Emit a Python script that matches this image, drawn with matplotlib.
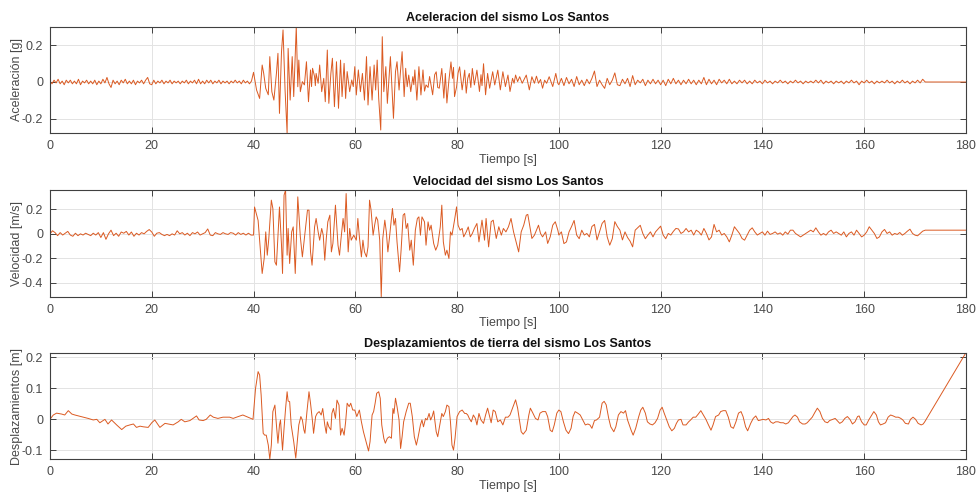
import numpy as np
import matplotlib
matplotlib.use("Agg")
import matplotlib.pyplot as plt
from matplotlib.ticker import FuncFormatter

plt.rcParams['font.family'] = ['Liberation Sans', 'DejaVu Sans']
plt.rcParams['axes.unicode_minus'] = False

# ---------------- Data ----------------
# Acceleration, values in hundredths of g
acc_quiet_dt = 0.4   # 0 .. 39.6 s
acc_quiet = [0.5, -1, 1, -0.5, 1.5, -1, 0.5, -1.5, 1, -0.5,
             1, -1, 0.5, -1, 1.5, -1.5, 0.5, -0.5, 1, -1,
             0.5, -1, 1, -1.5, 0.5, -1, 1.5, -0.5, 2.5, -1,
             -3, 1, -1, 0.5, -1.5, 1, -0.5, 1.5, -1, 0.5,
             -1, 1, -1.5, 0.5, -0.5, 1, -1, 1, 2.5, -1,
             -1.5, 1, -1, 0.5, -0.5, 1, -1, 0.5, -0.5, 1,
             -1, 0.5, -0.5, 0.5, -1, 0.5, -0.5, 1, -1, 0.5,
             -0.5, 1, -1, 1.5, -1, 0.5, -1, 1, -0.5, 1,
             -1, 0.5, -0.5, 1, -1, 0.5, -0.5, 0.5, -1, 0.5,
             -0.5, 1, -0.5, 0.5, -1, 1, -0.5, 0.5, -1, 0.5]
acc_strong_t = [40.0, 40.6, 41.2, 41.7, 42.0, 42.4, 42.9, 43.2, 43.6, 44.0,
                44.5, 44.8, 45.1, 45.5, 45.8, 46.2, 46.6, 46.8, 47.2, 47.6,
                47.9, 48.4, 48.7, 48.9, 49.2, 49.6, 50.0, 50.4, 50.8, 51.2,
                51.4, 51.6, 52.0, 52.15, 52.3, 52.7, 53.0, 53.4, 53.8, 54.1,
                54.5, 54.8, 55.2, 55.5, 55.9, 56.3, 56.7, 57.1, 57.4, 57.8,
                58.1, 58.4, 58.9, 59.3, 59.6, 59.9, 60.2, 60.6, 61.0, 61.4,
                61.8, 62.2, 62.5, 62.9, 63.3, 63.7, 64.0, 64.3, 64.6, 65.0,
                65.3, 65.6, 66.0, 66.3, 66.6, 66.9, 67.3, 67.5, 67.9, 68.2,
                68.6, 68.9, 69.2, 69.6, 69.9, 70.2, 70.5, 70.9, 71.3, 71.5,
                71.7, 72.1, 72.5, 72.9, 73.3, 73.6, 73.9, 74.3, 74.6, 75.2,
                75.6, 75.9, 76.2, 76.5, 77.0, 77.4, 77.7, 78.0, 78.4, 78.8,
                79.1, 79.3, 79.5, 79.9, 80.2, 80.5, 81.0, 81.5, 81.8, 82.1,
                82.4, 82.7, 83.0, 83.4, 83.9, 84.4, 84.7, 84.9, 85.2, 85.6,
                86.0, 86.4, 87.0, 87.4, 88.0, 88.5, 89.0, 89.5, 90.0, 90.4,
                90.9, 91.2, 91.5, 91.9, 92.3, 92.8, 93.1, 93.6, 94.2, 94.7,
                95.2, 95.6, 96.0, 96.4, 96.8, 97.2, 97.6, 98.1, 98.8, 99.4,
                99.8]
acc_strong_v = [5.3, -4.4, -9, 9.3, 4.7, -3.5, -7, 13.9, -5.3, -9.9,
                4.7, 15.7, -17.2, 16.6, 28.5, -4.4, -28, 18.4, -9.9, 13.9,
                -8, 30.3, -2.6, 12, -5.3, 0.2, -1.6, 11.1, -10.8, 6.6,
                -2.5, 7.5, 2.9, -2, 4.7, -0.7, 9.3, -5.3, 2, -10.8,
                17.5, -11.7, 4.7, 13, -13.5, 11.1, -14.4, 12, -8, 10.2,
                -9, 5.7, -5.3, 1.1, -2.5, 8.4, -7.1, 6.6, -5.3, 4.7,
                -9.9, 13.9, -12.6, 8.4, -9.9, 9.3, -4.4, 12, -9, -26.3,
                24.8, -5.3, 8.4, -11.7, 1.1, 13.9, -8, -19.9, 5.7, 11.1,
                -4.4, 6.6, 16.6, -8, 7.5, -2.6, 3.8, -5.3, 2.9, -1.5,
                6.6, -9.9, 8.4, -7.1, 6.6, -5, -1.6, -3, 3, -7,
                4, 5.6, -3, -3.4, 7.4, -8.8, 4.7, -11.5, 1, 11,
                2, 8, -8, -2.7, 5, 8.3, -4.3, 6.5, -6.1, 2,
                4.7, -3, 7.4, -1.6, 6.5, -5.2, 4, -2, 10, -7,
                4.7, -3.4, 5.6, -1.6, 6.5, -4.3, 5.6, -2.5, 3.8, -5.2,
                2, -0.7, 3.8, 0.2, 2.9, -0.7, 1, 3.8, -4.3, 2.9,
                -0.7, 3.2, -0.7, 1.4, -3.4, 1, -0.7, 2.9, -2.5, 4.7,
                -0.7]
acc_coda_start = 100.0
acc_coda_dt = 0.5    # 100 .. 171.5 s
acc_coda = [-1.5, 2, -2, 2.5, -1, 1.5, -2.5, 3, -1.5, 1,
            -2, 1.5, -1, 2, 6, -2.5, 1, -1.5, -3.5, 2,
            -1.5, 1, 5, -1.5, -2, 1.5, -1, 2, -2.5, 3.5,
            -1.5, 1, -0.5, 1.5, -2, 1, -1, 1.5, -1, 1,
            -1.5, 1, -2, 1.5, -1, 2, -1, 1, -1.5, 1,
            -1, 1.5, -1, 1, -1.5, 1, -1, 2.5, -1.5, 1.5,
            -1, 1, -1.5, 1.5, -0.5, 1, -1, 1.5, -1, 0.5,
            -1, 1, -0.5, 1, -1, 0.5, -1, 1, -0.5, 0.5,
            -1, 1, -0.5, 0.5, -1, 0.5, -0.5, 1, -0.5, 0.5,
            -1, 0.5, -0.5, 1, -0.5, 0.5, -1, 0.5, -0.5, 0.5,
            -0.5, 1, -0.5, 1, -1, 0.5, -0.5, 0.5, -1, 0.5,
            -0.5, 0.5, -1, 0.5, -0.5, 1, -0.5, 0.5, -1.5, 0.5,
            -0.5, 1, -0.5, 0.5, -1, 0.5, -0.5, 0.5, -0.5, 1,
            -0.5, 0.5, -1, 0.5, -0.5, 1, -0.5, 0.5, -1, 0.5,
            -0.5, 1, -0.5, 1.5]
acc_tail_t = [172.0, 180.0]
acc_tail_v = [0, 0]

# Velocity, values in cm/s (hundredths of m/s)
vel_quiet_dt = 0.5   # 0 .. 39.5 s
vel_quiet = [0, 2.5, 1, -1.5, 1, -1, 0.5, 2, -1, -2,
             0.5, -1.5, 0, -1, 0.5, -0.5, -1.5, 0.5, -1, 1,
             -3, 1, -4.5, 0, 3, -1.5, 0.5, -2, 1.5, 0.5,
             2, -1, 1.5, -2, 0.5, -1, 1, 0, 2, 3.5,
             1.5, -2, 0.5, 1, -0.5, -1.5, -0.5, -1.5, 0, -1,
             2.5, 0, 1, -1, 0.5, -1.5, 1, 0, 1.5, -1,
             0, 1, 4, -1, -1.5, 1, 0, -0.5, 1, 0,
             -0.5, 1, 0.5, -1, 1, -0.5, 0.5, -1, 0.5, -1]
vel_strong_t = [40.0, 40.2, 40.9, 41.7, 42.1, 42.4, 42.7, 43.0, 43.5, 43.8,
                44.2, 44.5, 44.8, 45.1, 45.5, 45.7, 46.0, 46.3, 46.6, 46.8,
                47.1, 47.5, 47.8, 48.2, 48.7, 49.2, 49.6, 50.0, 50.6, 50.9,
                51.2, 51.5, 52.0, 52.3, 52.7, 53.0, 53.4, 53.7, 54.0, 54.3,
                54.6, 55.0, 55.3, 55.6, 56.1, 56.6, 56.9, 57.2, 57.6, 57.9,
                58.2, 58.6, 58.9, 59.2, 59.7, 60.2, 60.5, 60.8, 61.2, 61.5,
                61.8, 62.2, 62.5, 62.8, 63.1, 63.5, 63.8, 64.1, 64.4, 64.8,
                65.1, 65.4, 65.8, 66.1, 66.4, 66.7, 67.3, 67.6, 67.9, 68.2,
                68.7, 69.0, 69.4, 69.7, 70.0, 70.3, 70.7, 71.0, 71.4, 71.8,
                72.2, 72.5, 72.8, 73.1, 73.6, 73.9, 74.3, 74.6, 74.9, 75.4,
                75.8, 76.2, 76.7, 77.0, 77.3, 77.7, 78.0, 78.4, 78.7, 79.0,
                79.5, 79.9, 80.2, 80.6, 81.0, 81.3, 81.8, 82.2, 82.6, 83.0,
                83.4, 83.9, 84.3, 84.9, 85.4, 85.7, 86.2, 86.7, 87.1, 87.7,
                88.2, 88.7, 89.1, 89.6, 90.1, 90.6, 91.1, 91.6, 92.1, 92.6,
                93.1, 93.6, 93.9, 94.3, 94.7, 95.2, 95.6, 96.0, 96.4, 96.8,
                97.4, 97.8, 98.3, 98.8, 99.3, 99.8]
vel_strong_v = [-1, 22, 11, -32.5, -20, 1.6, -17.5, -4, 27.6, 20.8,
                -23, -25.7, -1, 22, -9.3, -32.5, 31.7, 35.8, -17.5, 4.4,
                -24.3, 1.6, 5.7, -32.5, 30.3, -2.5, -18.9, -3.8, 19.4, 19.4,
                -14.8, -25.7, 5.7, 12.6, 1.6, -5.2, 4.4, -1.1, -21.6, -3.8,
                9.8, 15.3, -14.8, -7.9, 23.5, -9.3, -17.5, -3.8, 12.6, 1.6,
                33, -14.8, 4.4, -5.2, -1.1, -5.2, 12.6, -2.5, -18.9, -5.2,
                -14.8, -18.9, -10.7, 27.6, 19.4, -1.1, 7.1, 13.9, 11.2, -5.2,
                -51.6, -3.8, 11.2, 1.6, -14.8, -3.8, 20.8, 7.1, 12.6, -6.6,
                -31.1, -13.4, 15.3, 16.7, 4.4, 8.5, -13.4, -5.2, -25.7, 3,
                12.6, 13.9, -1.1, 13.9, 9.8, -9.3, 9.8, 3, 7.1, -7.9,
                -13.4, -9.3, 5.7, 23.5, -6.6, -17.5, -13.4, -20.2, 1.6, -1.1,
                11.2, 22.1, 7.1, 3, 4.4, -2.5, 1.6, 5.7, -2.5, 0.3,
                4.4, 8.5, -6.6, 11.2, -5.2, 12.6, -10.7, 9.9, 11.2, -3.8,
                5.8, -1.1, 4.4, 1.6, 5.8, 12.6, 1.6, -6.6, -14.8, 1.6,
                7.1, 15.3, 15.9, 5.8, -3.8, -1.1, 3, 7.1, 0.3, -2.5,
                1.6, -7.9, -2.5, 7.1, 9.9, 3]
vel_coda_start = 100.0
vel_coda_dt = 0.5    # 100 .. 171.5 s
vel_coda = [-1, 1.6, -8, -6.6, 1.6, 6, 11, -1, -4, 3,
            -1, 0.3, -2.5, 6, 7.7, -5, 1.6, 8.5, 11, -2.5,
            -9.3, -4, 10, 6, 3, -5, 1.6, -3, -6, -10.7,
            3, 5, 7, 0.3, -4, -1, 1.6, -2.5, 1.6, 4,
            6.3, -1, -4, 0.3, -1, 2, 4.4, 4, 0.3, 1.6,
            4.4, 1.6, 3, -1, 3, 1.6, -1, 4.4, 0.3, -5,
            -2.5, 7.7, 1.6, 3, -1, 0.3, -2.5, -6.6, -1, 5.8,
            3, 0.3, -3.8, -5.2, -1, 3, 4.9, 1.6, -1, 0.3,
            1.6, -1.1, 2.2, -0.5, 0.3, 1.6, -0.3, 0.8, -1.1, 1.6,
            -0.3, 3, 3, 0.3, -1.1, -2.5, -1.1, 0.3, 1.6, 3,
            1.6, 4.9, 1.6, -1.1, 0.3, -1.1, 1.6, 3, 0.3, 1.6,
            0.3, -1.1, 1.6, -2.5, 0.3, 1.6, -1.1, 3, 0.3, -2.5,
            -1.1, 1.6, 5.8, 3, 0.3, -3.8, -2.5, 1.6, 3.6, 0.3,
            1.6, -1.1, 0.3, -0.5, 1.1, -1.1, 0.3, 2.2, 3.8, 0.3,
            -1.1, -1.6, 0.3, 2.2]
vel_tail_t = [172.0, 180.0]
vel_tail_v = [3, 3]

# Ground displacement, values in cm (hundredths of m)
disp_t = [0.0, 0.65, 1.3, 2.3, 2.9, 3.6, 4.3, 4.9, 5.6, 6.5,
          7.5, 8.5, 9.2, 9.8, 10.8, 11.4, 12.1, 13.1, 14.1, 14.9,
          15.7, 16.4, 17.0, 17.7, 18.3, 19.3, 20.0, 20.6, 21.6, 22.6,
          23.2, 24.2, 25.2, 25.8, 26.5, 27.5, 28.1, 28.8, 29.3, 30.1,
          30.7, 31.5, 32.1, 33.0, 34.0, 35.3, 36.0, 37.0, 37.9, 38.9,
          39.9, 40.4, 40.9, 41.2, 41.5, 41.9, 42.2, 42.5, 42.9, 43.2,
          43.5, 43.8, 44.2, 44.5, 44.8, 45.1, 45.3, 45.7, 46.0, 46.3,
          46.6, 46.8, 47.1, 47.4, 47.9, 48.3, 48.6, 48.9, 49.3, 49.6,
          49.9, 50.1, 50.5, 50.9, 51.2, 51.6, 51.8, 52.2, 52.5, 52.9,
          53.3, 53.6, 54.0, 54.3, 54.5, 54.8, 55.2, 55.4, 55.7, 56.1,
          56.4, 56.8, 57.1, 57.4, 57.8, 58.1, 58.4, 58.8, 59.1, 59.5,
          59.9, 60.3, 60.8, 61.2, 61.6, 62.2, 62.6, 62.9, 63.3, 63.6,
          63.9, 64.2, 64.6, 64.9, 65.2, 65.6, 65.9, 66.3, 66.7, 67.1,
          67.4, 67.6, 67.9, 68.2, 68.6, 68.9, 69.2, 69.5, 70.0, 70.5,
          70.8, 71.2, 71.6, 72.0, 72.3, 72.8, 73.1, 73.4, 73.8, 74.1,
          74.5, 74.8, 75.1, 75.4, 75.9, 76.2, 76.7, 77.0, 77.3, 77.7,
          78.0, 78.4, 78.7, 79.0, 79.3, 79.6, 80.0, 80.5, 81.0, 81.5,
          81.8, 82.1, 82.4, 82.8, 83.2, 83.6, 83.9, 84.3, 84.7, 85.2,
          85.6, 86.0, 86.4, 86.7, 87.1, 87.5, 88.0, 88.5, 89.0, 89.5,
          90.0, 90.4, 90.9, 91.5, 91.9, 92.3, 92.6, 93.0, 93.6, 94.1,
          94.4, 94.9, 95.4, 95.9, 96.3, 96.8, 97.4, 97.8, 98.3, 98.7,
          99.1, 99.6, 100.0, 100.4, 100.9, 101.4, 101.9, 102.4, 102.8, 103.2,
          103.7, 104.2, 104.7, 105.2, 105.7, 106.1, 106.5, 107.0, 107.4, 108.0,
          108.5, 108.9, 109.3, 109.8, 110.2, 110.8, 111.2, 111.7, 112.2, 112.7,
          113.1, 113.5, 114.2, 114.6, 115.1, 115.7, 116.1, 116.5, 117.0, 117.4,
          117.9, 118.4, 118.9, 119.4, 119.9, 120.3, 120.7, 121.2, 121.7, 122.2,
          122.7, 123.1, 123.5, 124.0, 124.4, 125.0, 125.5, 125.9, 126.4, 126.9,
          127.4, 127.9, 128.4, 128.9, 129.4, 129.9, 130.3, 130.8, 131.4, 131.8,
          132.3, 132.8, 133.3, 133.8, 134.3, 134.8, 135.3, 135.8, 136.2, 136.7,
          137.1, 137.7, 138.2, 138.7, 139.2, 139.7, 140.1, 140.7, 141.2, 141.6,
          142.1, 142.6, 143.1, 143.6, 144.1, 144.6, 145.1, 145.6, 146.0, 146.4,
          146.9, 147.3, 147.9, 148.4, 148.8, 149.3, 149.8, 150.3, 150.8, 151.3,
          151.8, 152.3, 152.8, 153.2, 153.8, 154.3, 154.7, 155.2, 155.7, 156.2,
          156.7, 157.2, 157.7, 158.2, 158.7, 159.0, 159.5, 160.0, 160.4, 160.9,
          161.5, 161.9, 162.4, 162.8, 163.2, 163.7, 164.2, 164.7, 165.2, 165.7,
          166.2, 166.7, 167.2, 167.6, 168.1, 168.7, 169.1, 169.6, 170.1, 170.6,
          171.2, 171.6, 171.9, 180.0]
disp_v = [0, 1.4, 2, 1.7, 1.4, 2.8, 1.7, 1.4, 1.1, 0.7,
          0.3, -0.2, 0, -1.1, 0, -1.5, -0.2, -1.8, -3.3, -2.2,
          -1.8, -1.5, -2.6, -2.2, -2.4, -2.6, -1.1, -0.2, -2.6, -1.3,
          -1.5, -1.8, -0.8, 0, -0.8, -0.4, 0.3, 1.1, -0.2, -0.4,
          0, 1.4, 0.7, 0.3, 0.7, 0.7, 0.3, 0.9, 1.4, 0.7,
          0, 10, 15.4, 14.3, 7.8, -4.5, -5.1, -5.1, -8.3, -12.9,
          -8.3, 2.5, 4.6, -1.8, -7.7, -1.8, -0.2, -9.9, -2.9, 3.5,
          8.9, 5.9, 5.7, -1.8, -7.2, -12.5, -7.2, -1.8, 0.9, -0.2,
          -3.4, -4.5, 2.5, 8.9, 5.2, -0.8, -4.5, 0.9, 1.9, 2.5,
          1.4, 3.5, -1.8, -4.5, -0.8, -2.4, -3.4, 1.9, 3.5, 0.3,
          6.2, 4.6, -5.1, -2.9, -5.1, -0.8, 5.2, 4.1, 5.2, 3,
          3, 0.9, 3, -0.8, -4, -7.7, -10.2, -7.2, 1.4, 2.5,
          5.2, 8.4, 8.9, 6.8, -1.8, -6.1, -7.7, -6.1, -5.6, -6.1,
          3.5, 1.9, 6.8, 4.1, -0.2, -9.4, -5.6, -0.8, 2.5, 5.2,
          5.2, 0.9, -5.6, -8.3, -6.1, -1.8, -0.2, -2.4, 0.3, -0.2,
          1.9, -0.2, 0.9, 2.7, -4, -5.6, -0.8, 1.9, 0.9, 2.5,
          4.6, 4.1, -0.8, -8.3, -9.9, -6.1, 0.9, 2.5, 3, 1.9,
          1.9, 1.4, 0.3, -0.8, 1.4, 0.3, -1.8, 1.9, -0.2, -1.3,
          1.4, 3.6, 0.9, -1.1, 3, 2.5, -0.8, -0.2, -1.8, 0.7,
          0.7, 1.4, 3.6, 6.3, 3.6, -0.8, -4, -4.8, -3.5, 1.4,
          3.6, 2, 0.3, -0.2, 2, 2.5, 2.5, 0.9, -3.5, -4,
          -1.8, 2, 3, 2.5, -0.8, -3.5, -4.6, -2.9, 0.9, 2.5,
          2, 1.4, -0.2, -1.8, -1.5, -1.8, -2.9, -0.4, -0.2, 0.7,
          5.2, 5.8, 4.7, 0.3, -2.4, -4, -2.4, 1.4, 2.5, 2,
          2.8, -0.2, -3.5, -5.1, -2.9, 0.9, 3, 3.9, 2, -0.8,
          -1.5, -1.8, -1.1, 0.3, 3, 3.9, 2, -0.2, -2.4, -3.7,
          -2.9, -1.3, -0.2, 0, -1.8, -1.8, -0.8, -0.2, 0.7, 0.7,
          1.7, 2.8, 1.4, 0, -1.8, -3.5, -1.8, 0.9, 1.4, 2.5,
          2.8, 2.8, 0.7, -2.4, -2.9, -0.8, 2, 2.5, 0.9, -2.4,
          -3.7, -1.3, 0.3, 1.1, -0.4, -0.2, 0, -0.2, 0.3, -0.8,
          -1.3, -0.8, -0.8, -1.1, -1.1, -1.5, -1.1, 0, 0.9, 1.4,
          0.7, -0.8, -1.5, -1.5, -1.1, -0.2, 0.7, 2.2, 3.6, 2.5,
          0.3, -0.8, -1.1, -0.4, 0, 0.3, -0.4, -1.3, -0.8, 0.3,
          0.9, 0, -1.5, -0.8, 0.9, 1.1, -0.8, -1.8, -1.8, -0.2,
          1.4, 2.5, 1.4, -0.8, -1.8, -1.5, -1.1, 0.7, 1.4, 1.1,
          0.7, 0.7, 0.3, -0.2, -1.3, -1.5, 0, 0.7, 0, -1.3,
          -1.8, -1.5, -0.8, 21.5]

x_ticks = [0, 20, 40, 60, 80, 100, 120, 140, 160, 180]
acc_yticks = [-0.2, 0, 0.2]
vel_yticks = [-0.4, -0.2, 0, 0.2]
disp_yticks = [-0.1, 0, 0.1, 0.2]

titles = ["Aceleracion del sismo Los Santos",
          "Velocidad del sismo Los Santos",
          "Desplazamientos de tierra del sismo Los Santos"]
ylabels = ["Aceleración [g]", "Velocidad [m/s]", "Desplazamientos [m]"]
xlabel = "Tiempo [s]"

# ---------------- Assemble series ----------------
acc_t = np.concatenate([np.arange(len(acc_quiet)) * acc_quiet_dt,
                        acc_strong_t,
                        acc_coda_start + np.arange(len(acc_coda)) * acc_coda_dt,
                        acc_tail_t])
acc_y = np.concatenate([acc_quiet, acc_strong_v, acc_coda, acc_tail_v]) / 100.0

vel_t = np.concatenate([np.arange(len(vel_quiet)) * vel_quiet_dt,
                        vel_strong_t,
                        vel_coda_start + np.arange(len(vel_coda)) * vel_coda_dt,
                        vel_tail_t])
vel_y = np.concatenate([vel_quiet, vel_strong_v, vel_coda, vel_tail_v]) / 100.0

dsp_t = np.array(disp_t)
dsp_y = np.array(disp_v) / 100.0

series = [(acc_t, acc_y, (-0.281, 0.303), acc_yticks),
          (vel_t, vel_y, (-0.516, 0.358), vel_yticks),
          (dsp_t, dsp_y, (-0.129, 0.215), disp_yticks)]

# ---------------- Figure ----------------
fig = plt.figure(figsize=(9.76, 4.93), dpi=100)
line_color = '#DB5A22'
edge = '#404040'
txt = '#4a4a4a'
fmt = FuncFormatter(lambda v, p: ('%g' % round(v, 3)))

bottoms = [0.7296, 0.3980, 0.0683]
for i, (t, y, ylim, yt) in enumerate(series):
    ax = fig.add_axes([0.0512, bottoms[i], 0.9385, 0.2163])
    ax.plot(t, y, color=line_color, lw=0.7)
    ax.set_xlim(0, 180)
    ax.set_ylim(*ylim)
    ax.set_xticks(x_ticks)
    ax.set_yticks(yt)
    ax.yaxis.set_major_formatter(fmt)
    ax.grid(True, color='#e3e3e3', lw=0.7)
    ax.set_axisbelow(True)
    for s in ax.spines.values():
        s.set_color(edge)
        s.set_linewidth(0.8)
    ax.tick_params(direction='in', length=4, width=0.7, color=edge,
                   top=True, right=True, labelsize=9, labelcolor=txt, pad=5)
    ax.set_title(titles[i], fontsize=9, fontweight='bold', pad=4, color='#111111')
    ax.set_ylabel(ylabels[i], fontsize=9, color=txt)
    ax.yaxis.set_label_coords(-0.0295, 0.5)
    ax.set_xlabel(xlabel, fontsize=9, color=txt, labelpad=1)

fig.savefig('out.png', dpi=100)
